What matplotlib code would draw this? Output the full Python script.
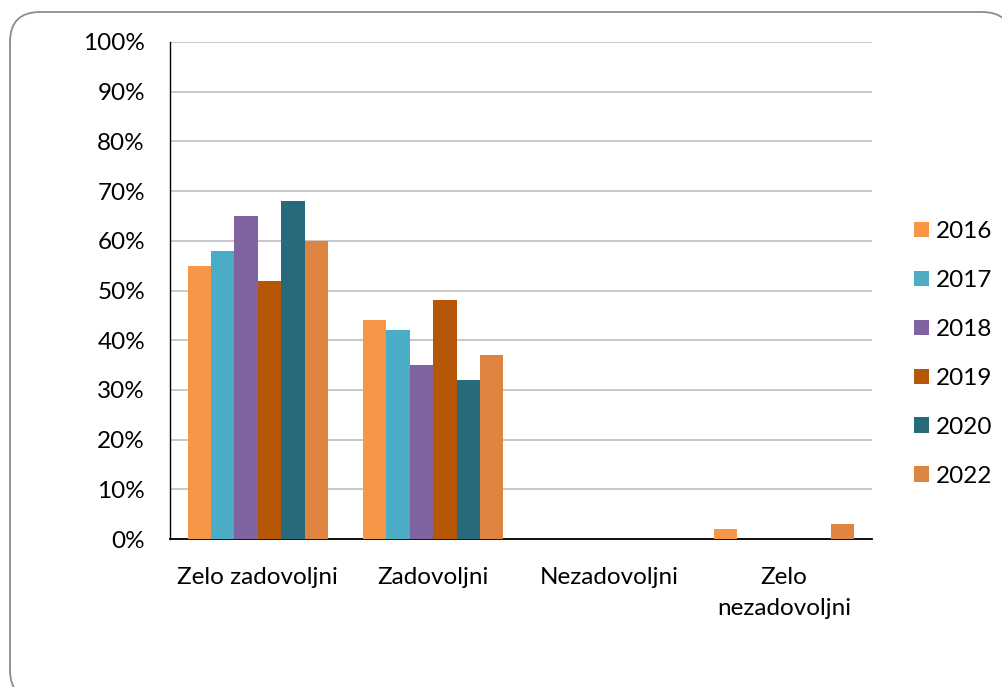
import matplotlib.pyplot as plt
import numpy as np
from matplotlib.patches import FancyBboxPatch
from matplotlib.ticker import PercentFormatter

# Data (percent)
categories = ["Zelo zadovoljni", "Zadovoljni", "Nezadovoljni", "Zelo\nnezadovoljni"]
years = ["2016", "2017", "2018", "2019", "2020", "2022"]
v2016 = [55, 44, 0, 2]
v2017 = [58, 42, 0, 0]
v2018 = [65, 35, 0, 0]
v2019 = [52, 48, 0, 0]
v2020 = [68, 32, 0, 0]
v2022 = [60, 37, 0, 3]
colors = ["#F79646", "#4BACC6", "#8064A2", "#B65708", "#276A7C", "#DD8440"]

plt.rcParams["font.family"] = ["Lato", "DejaVu Sans"]
FS = 17.5

fig = plt.figure(figsize=(10.02, 6.87), dpi=100)

# Rounded border around the chart (pixel coordinates)
box = FancyBboxPatch((10, -13), 1002, 688,
                     boxstyle="round,pad=0,rounding_size=30",
                     transform=None, facecolor="white",
                     edgecolor="#8C8C8C", linewidth=1.3, zorder=-5)
fig.patches.append(box)

ax = fig.add_axes([170 / 1002, 1 - 539 / 687, 702 / 1002, 497 / 687])
ax.set_facecolor("none")
ax.set_zorder(2)

series = [v2016, v2017, v2018, v2019, v2020, v2022]
x = np.arange(len(categories))
n = len(series)
width = 0.8 / n
for i, (vals, yr) in enumerate(zip(series, years)):
    ax.bar(x - 0.4 + width * (i + 0.5), vals, width, color=colors[i],
           label=yr, zorder=3)

ax.set_xlim(-0.5, 3.5)
ax.set_ylim(0, 100)
ax.set_yticks(np.arange(0, 101, 10))
ax.yaxis.set_major_formatter(PercentFormatter(decimals=0))
ax.set_xticks(x)
ax.set_xticklabels(categories, linespacing=1.6)

ax.grid(axis="y", color="#BFBFBF", linewidth=1.2, zorder=0)
for s in ["top", "right"]:
    ax.spines[s].set_visible(False)
ax.spines["left"].set_color("black")
ax.spines["bottom"].set_color("black")
ax.spines["left"].set_linewidth(1.0)
ax.spines["bottom"].set_linewidth(1.3)
ax.tick_params(axis="y", length=0, pad=18, labelsize=FS, labelcolor="black")
ax.tick_params(axis="x", length=0, pad=20, labelsize=FS, labelcolor="black")

fig.legend(loc="center left", bbox_to_anchor=(914 / 1002, 1 - 354 / 687),
           frameon=False, fontsize=FS, handlelength=0.62, handleheight=0.62,
           handletextpad=0.3, labelspacing=1.15, borderpad=0, borderaxespad=0)

fig.savefig("out.png", dpi=100)
